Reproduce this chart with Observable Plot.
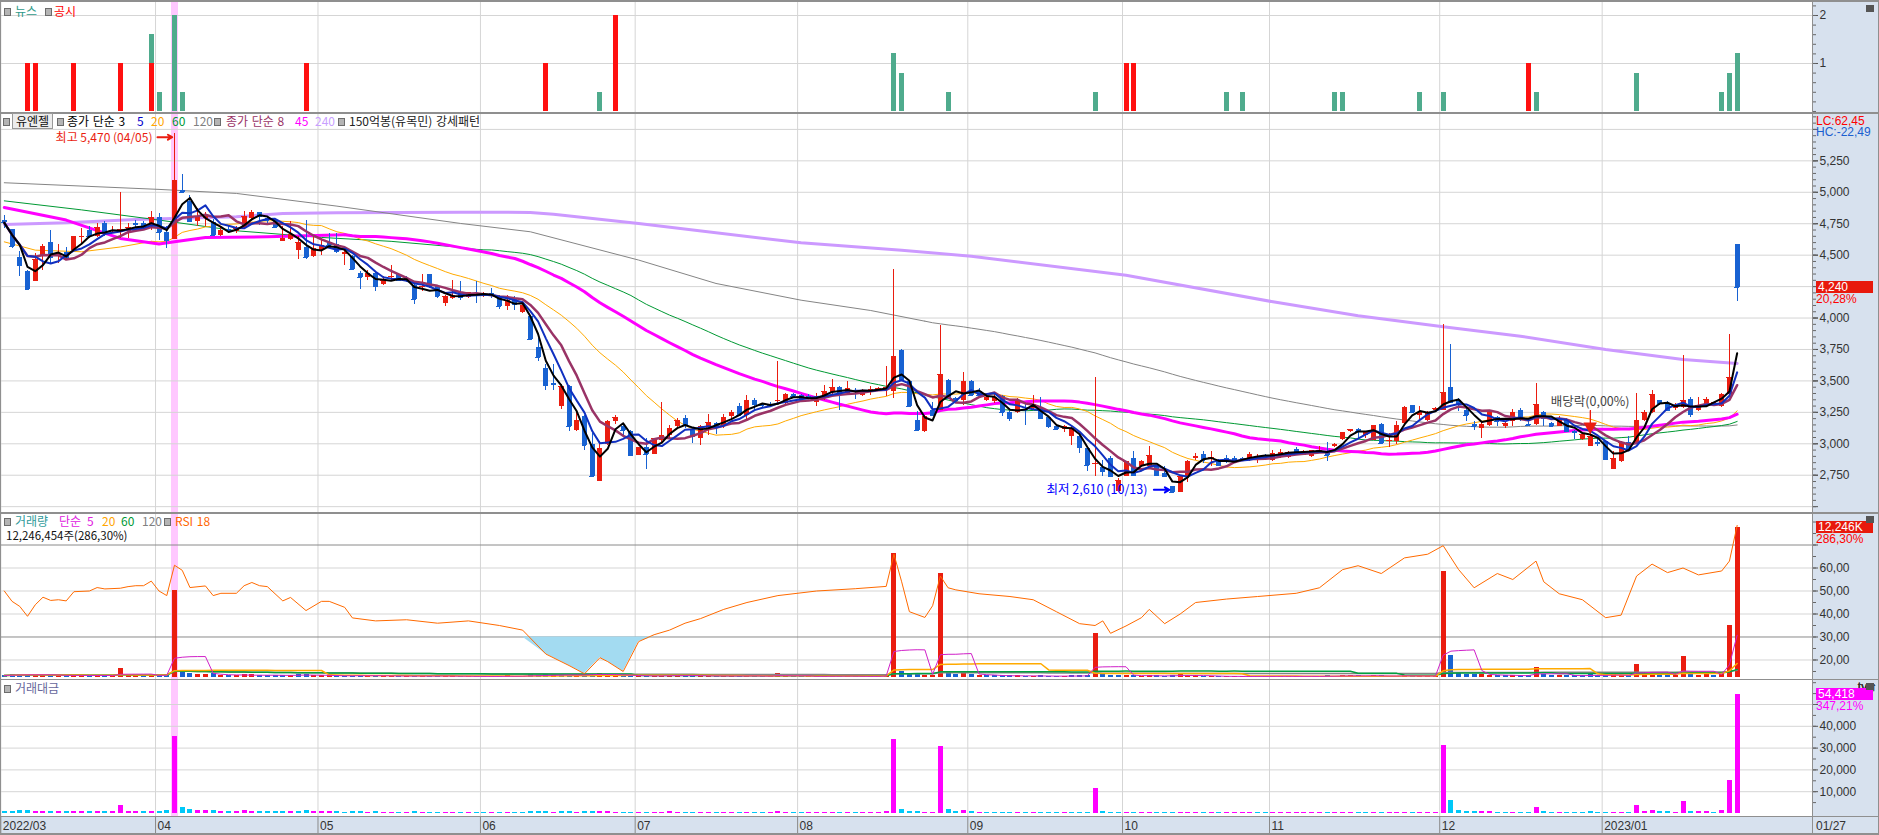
<!DOCTYPE html>
<html><head><meta charset="utf-8">
<script src="https://cdn.jsdelivr.net/npm/d3@7"></script>
<script src="https://cdn.jsdelivr.net/npm/@observablehq/plot@0.6"></script>
<style>
body{margin:0;background:#fff;}
#wrap{position:relative;width:1879px;height:835px;overflow:hidden;font-family:"Liberation Sans","Noto Sans CJK KR",sans-serif;}
.lay{position:absolute;left:0;}
.lg{position:absolute;font-family:"Noto Sans CJK KR",sans-serif;font-size:12px;line-height:12px;white-space:nowrap;word-spacing:1px;}
.sq{position:absolute;width:5px;height:6px;background:#b4b4b4;border:1px solid #6c6c6c;}
.hl{position:absolute;background:#8f8f8f;}
.box{position:absolute;left:1816px;width:57px;height:12px;color:#fff;font-size:12px;line-height:12px;padding-left:2px;box-sizing:border-box;font-family:"Liberation Sans",sans-serif;}
.rt{position:absolute;left:1816px;font-size:12px;line-height:12px;font-family:"Liberation Sans",sans-serif;}
.xb{position:absolute;left:1866px;width:8px;height:7px;background:#555;}
</style></head><body><div id="wrap"></div>
<script>
// ---------------- data ----------------
const monthLabels = ["2022/03","04","05","06","07","08","09","10","11","12","2023/01"];
const monthStarts = [0,20,41,62,82,103,125,145,164,186,207];
const lastDateLabel = "01/27";

const openP = [
4779,4704,4482,4368,4288,4492,4598,4487,4519,4540,
4641,4694,4651,4752,4686,4694,4686,4752,4752,4726,
4797,4681,4625,5017,4924,4765,4792,4757,4659,4704,
4686,4712,4792,4837,4792,4773,4606,4628,4540,4559,
4487,4535,4601,4588,4508,4487,4355,4320,4355,4270,
4323,4349,4315,4262,4243,4347,4248,4116,4156,4203,
4161,4195,4180,4193,4174,4089,4148,4044,4010,3766,
3599,3480,3299,3459,3103,3215,2997,2698,2995,3175,
3135,3095,2910,2968,2918,3029,3069,3135,3201,3109,
3042,3114,3162,3135,3215,3294,3228,3342,3310,3315,
3339,3321,3392,3387,3379,3326,3368,3405,3445,3400,
3427,3387,3408,3427,3427,3413,3745,3493,3183,3095,
3268,3268,3506,3360,3342,3498,3413,3342,3334,3374,
3246,3246,3276,3281,3289,3209,3140,3114,3055,3061,
2963,2836,2812,2883,2618,2743,2883,2817,2817,2817,
2764,2663,2613,2737,2883,2918,2878,2870,2881,2883,
2880,2870,2883,2905,2870,2902,2891,2955,2910,2897,
2928,2936,2976,3034,3095,3114,3069,3029,3154,3016,
3016,3162,3302,3228,3188,3268,3268,3448,3347,3262,
3154,3122,3143,3207,3135,3175,3268,3152,3156,3246,
3162,3140,3193,3095,3037,2976,3011,3021,2798,2857,
3011,3003,3188,3249,3342,3321,3281,3286,3352,3268,
3302,3315,3294,3395,4585];
const highP = [
4818,4704,4527,4381,4514,4585,4694,4585,4559,4646,
4712,4731,4752,4765,4731,4999,4752,4779,4765,4845,
4832,4726,5470,5142,4972,4871,4837,4784,4726,4726,
4731,4845,4853,4837,4805,4784,4726,4765,4646,4773,
4646,4633,4673,4673,4567,4500,4368,4381,4362,4328,
4421,4355,4328,4275,4347,4347,4262,4182,4302,4288,
4201,4288,4201,4235,4182,4182,4174,4129,4023,3838,
3633,3633,3474,3466,3254,3228,3082,3016,3188,3228,
3162,3103,2971,3042,3042,3326,3148,3201,3223,3122,
3148,3233,3167,3233,3268,3321,3387,3360,3321,3326,
3652,3400,3400,3395,3390,3400,3466,3514,3459,3493,
3440,3432,3453,3445,3612,4387,3750,3500,3260,3228,
3326,3944,3511,3366,3565,3500,3440,3400,3405,3387,
3260,3360,3321,3387,3366,3215,3148,3148,3135,3069,
2976,3527,2870,2897,2724,2862,2942,2870,2981,2830,
2817,2663,2737,2870,2923,2936,2936,2878,2910,2897,
2891,2928,2918,2915,2950,2955,2940,2968,2945,2950,
2981,3008,3000,3090,3114,3122,3095,3143,3162,3082,
3175,3294,3307,3299,3260,3289,3952,3792,3360,3281,
3175,3175,3268,3215,3175,3276,3281,3188,3480,3254,
3167,3220,3201,3109,3074,3262,3042,3029,2936,3016,
3061,3400,3268,3421,3347,3334,3321,3700,3368,3368,
3366,3330,3400,3872,4585];
const lowP = [
4712,4553,4333,4230,4288,4381,4434,4434,4461,4540,
4580,4633,4638,4646,4673,4633,4633,4712,4699,4699,
4620,4553,4625,4991,4765,4726,4726,4651,4646,4673,
4673,4712,4779,4739,4752,4712,4606,4620,4468,4468,
4482,4500,4567,4514,4421,4381,4230,4302,4209,4262,
4302,4288,4280,4111,4209,4235,4156,4095,4150,4142,
4156,4116,4164,4156,4068,4058,4063,4036,3824,3652,
3427,3427,3276,3095,3095,2950,2743,2698,2989,3156,
3055,2897,2905,2798,2918,3003,3042,3122,3122,3003,
2989,3069,3077,3122,3188,3215,3188,3254,3281,3300,
3321,3307,3370,3345,3355,3299,3347,3387,3262,3387,
3355,3374,3387,3421,3374,3360,3506,3299,3095,3087,
3228,3262,3352,3335,3302,3380,3374,3334,3321,3215,
3175,3241,3148,3268,3193,3122,3109,3090,2989,2923,
2782,2743,2737,2737,2615,2740,2737,2810,2812,2743,
2737,2610,2610,2690,2870,2843,2817,2830,2843,2862,
2865,2857,2843,2890,2857,2883,2885,2910,2905,2890,
2923,2857,2970,3030,3090,3034,3042,3029,2995,2971,
2997,3148,3241,3188,3175,3249,3262,3321,3260,3175,
3109,3042,3135,3135,3122,3135,3175,3135,3148,3135,
3130,3135,3087,3034,3030,2976,2976,2870,2796,2851,
2950,2997,3180,3241,3307,3254,3268,3281,3209,3260,
3294,3305,3289,3392,4134];
const closeP = [
4757,4567,4421,4230,4466,4567,4482,4514,4474,4646,
4651,4646,4718,4678,4699,4704,4718,4742,4726,4797,
4678,4620,5094,5001,4771,4797,4818,4659,4699,4694,
4712,4805,4837,4810,4773,4720,4633,4667,4601,4479,
4553,4580,4580,4527,4519,4389,4323,4355,4254,4302,
4333,4296,4296,4150,4254,4248,4169,4174,4182,4164,
4201,4188,4185,4185,4089,4142,4108,4103,3830,3687,
3466,3474,3453,3140,3183,2989,2743,2963,3175,3207,
3109,2910,2971,2918,3042,3069,3122,3183,3143,3061,
3140,3167,3135,3209,3246,3228,3342,3315,3305,3305,
3344,3392,3374,3352,3360,3379,3413,3445,3400,3437,
3413,3419,3432,3440,3448,3692,3514,3299,3109,3220,
3228,3551,3360,3342,3498,3387,3387,3368,3366,3246,
3201,3347,3268,3313,3201,3135,3114,3135,3122,2971,
2830,2843,2777,2743,2711,2862,2751,2862,2910,2751,
2737,2610,2737,2857,2902,2870,2891,2830,2870,2870,
2876,2918,2902,2899,2923,2928,2934,2934,2936,2944,
2950,2910,2995,3087,3114,3095,3087,3143,3003,3029,
3143,3289,3246,3246,3249,3281,3408,3326,3321,3228,
3140,3154,3262,3175,3162,3249,3201,3146,3313,3201,
3135,3201,3095,3087,3074,3061,3005,2878,2883,3011,
2957,3183,3249,3392,3321,3268,3307,3347,3233,3307,
3355,3326,3395,3525,4240];
// volume, thousand shares
const volumeK = [
190,230,260,300,250,200,220,180,170,210,
190,200,180,170,150,730,230,200,180,170,
210,260,7150,590,380,270,260,320,220,180,
190,250,230,200,170,210,200,210,240,260,
180,170,150,160,150,190,200,140,180,130,
150,140,120,170,140,130,150,140,130,120,
110,100,120,110,130,150,120,140,230,200,
260,180,220,280,200,260,300,330,250,180,
150,190,140,170,130,150,260,180,150,160,
140,170,120,150,140,130,190,150,110,100,
330,150,120,110,100,130,140,160,120,140,
110,100,120,130,260,10100,520,310,250,200,
150,8500,480,260,380,250,200,160,150,180,
160,170,140,130,150,140,120,130,170,160,
210,3600,300,220,200,180,170,130,180,160,
140,190,230,200,150,130,120,110,100,120,
110,100,130,110,120,130,110,100,120,130,
110,150,120,200,180,150,130,170,160,120,
140,200,150,130,120,110,8700,1800,350,280,
250,270,220,180,170,200,160,150,860,250,
200,170,180,150,160,300,180,200,230,210,
190,1100,330,400,250,230,200,1700,300,220,
240,200,350,4300,12246];
// trading value, million won
const tradeValue = [
900,1050,1150,1300,1100,900,1000,800,760,950,
880,930,840,800,700,3700,1080,950,850,800,
1000,1200,35300,2950,1850,1300,1250,1500,1050,850,
900,1200,1100,950,800,1000,930,970,1100,1180,
820,780,690,730,680,850,870,610,770,560,
650,600,510,710,590,550,630,580,540,500,
460,420,500,460,540,620,500,570,900,750,
920,630,740,900,620,780,850,940,770,570,
470,570,410,500,390,460,800,560,470,500,
440,540,380,480,450,430,630,500,360,330,
1100,500,400,370,340,440,480,550,410,480,
380,340,410,450,900,34000,1800,1050,800,640,
490,30800,1650,870,1290,850,680,540,500,600,
520,560,460,430,480,440,370,400,510,480,
600,11500,830,600,540,500,480,370,510,450,
390,500,620,560,430,380,350,310,290,350,
320,290,380,320,350,380,320,290,350,380,
330,440,360,600,560,470,400,530,490,360,
430,640,490,420,390,360,31400,5800,1150,900,
780,850,700,570,540,640,510,470,2800,800,
630,540,560,460,480,900,540,580,650,620,
570,3600,1050,1300,830,750,650,5500,980,720,
800,660,1150,15200,54418];
// RSI 18 read points [day index, value]
const rsiPoints = [[0,50],[1,45.5],[2,43.3],[3,39],[4,44],[5,47.3],[6,45.9],[7,46.2],[8,45.7],[9,49.7],[11,50],[12,51.5],[13,50.9],[15,51.2],[16,51.9],[17,52.3],[18,52.3],[19,54.3],[20,50],[21,48],[22,61.2],[23,59],[24,51.5],[26,52.2],[27,48],[28,49],[30,49],[31,52.3],[32,53.7],[33,52.3],[34,51.9],[36,45.7],[37,47.2],[39,41.5],[41,45.5],[42,45.5],[44,42.9],[45,38.3],[48,37],[52,37.5],[56,36],[60,37],[64,35],[67,33],[70,22.6],[73,17.6],[75,14],[77,21],[78,19.3],[80,15],[82,28],[84,31],[86,33],[88,36],[90,38],[93,42],[96,45],[100,48],[105,50],[110,51],[114,52],[115,66],[116,54],[117,41],[119,38.5],[120,43.6],[121,56.5],[122,51.4],[123,50.5],[126,48.8],[130,47.6],[133,46.2],[136,41],[139,35.8],[141,35],[142,37],[143,31.6],[145,34.8],[147,38.4],[148,42],[150,35.8],[152,40],[154,45],[158,46.5],[162,47.6],[167,49],[170,51.4],[173,59.3],[175,61],[178,57.6],[181,64.4],[184,66],[186,69.7],[188,59.3],[190,51.4],[193,57.6],[195,55],[198,63],[199,54],[201,48.8],[204,46.2],[207,38.4],[209,39.5],[211,56.5],[213,61.7],[215,58],[217,60],[219,57],[222,58.7],[223,63],[224,78.5]];
// long moving averages read before their window is complete [index, value]
const ma240Pts = [[0,4744],[8,4757],[17,4784],[30,4805],[36,4832],[43,4837],[59,4842],[68,4840],[71,4826],[82,4752],[103,4598],[116,4540],[125,4492],[145,4341],[164,4129],[175,4018],[186,3930],[196,3856],[207,3750],[217,3671],[224,3639]];
const ma120Early = [[0,5076],[20,5023],[30,4991],[43,4890],[59,4752],[68,4686],[82,4461],[92,4275],[103,4142],[112,4060],[119,3975]];
const ma60Early = [[0,4932],[10,4860],[20,4779],[30,4694],[41,4641],[50,4610],[59,4562]];
const ma45Early = [[0,4879],[8,4779],[15,4633],[20,4588],[22,4606],[26,4641],[34,4646],[44,4663]];
const ma20Early = [[0,4606],[4,4540],[10,4527],[15,4565],[19,4610]];
// news / disclosures counts
const newsIdx = [19,20,22,23,77,115,116,122,141,158,160,172,173,183,186,198,211,222,223,224];
const newsVal = [1.6,0.4,2,0.4,0.4,1.2,0.8,0.4,0.4,0.4,0.4,0.4,0.4,0.4,0.4,0.4,0.8,0.4,0.8,1.2];
const gongsiIdx = [3,4,9,15,19,39,70,79,145,146,197];
const gongsiVal = [1,1,1,1,1,1,1,2,1,1,1];
const highIdx = 22, lowIdx = 151, exDivIdx = 205, exDivMark = 3138;
const priceTickVals = [2500,2750,3000,3250,3500,3750,4000,4250,4500,4750,5000,5250,5500];
const priceTickLabels = [2750,3000,3250,3500,3750,4000,4500,4750,5000,5250];

// ---------------- layout ----------------
const W = 1879, MR = 67;
const xDomain = [-0.491, 233.74];
const RED = "#ea1d10", BLUE = "#1862d2", MAG = "#ff00ff", CYAN = "#00c8f8";
const GRID = "#d5d5d5";
const wrap = document.getElementById("wrap");
const rows = d3.range(closeP.length).map(i => ({
  i, o: openP[i], h: highP[i], l: lowP[i], c: closeP[i],
  v: volumeK[i] / 1000, tv: tradeValue[i],
  rise: i === 0 ? closeP[0] >= openP[0] : closeP[i] >= closeP[i - 1]
}));
const candleColor = d => d.c >= d.o ? RED : BLUE;
const gridX = monthStarts.map(d => d - 0.45);

function base(h, y) {
  return {width: W, height: h, marginLeft: 0, marginRight: MR, marginTop: 0, marginBottom: 0,
    style: {background: "transparent", overflow: "visible", fontFamily: "Liberation Sans, sans-serif", fontSize: "12px", color: "#333"},
    x: {domain: xDomain, axis: null}, y: Object.assign({axis: null}, y)};
}
function put(el, top, z) {
  const d = document.createElement("div");
  d.className = "lay"; d.style.top = top + "px"; d.style.zIndex = z;
  d.appendChild(el); wrap.appendChild(d); return el;
}
function div(cls, css, html) {
  const d = document.createElement("div");
  d.className = cls; d.style.cssText = css; if (html != null) d.innerHTML = html;
  wrap.appendChild(d); return d;
}
const comma = d3.format(",");
const dec2 = d => d.toFixed(2).replace(".", ",");
const rightAxis = (ticks, fmt) => Plot.axisY(ticks, {anchor: "right", tickSize: 5, tickPadding: 2, tickFormat: fmt, stroke: "#555", fill: "#333", fontSize: 12});
const minorAxis = (ticks) => Plot.axisY(ticks, {anchor: "right", tickSize: 3, tickFormat: () => "", stroke: "#666"});
const pink = Plot.ruleX([highIdx], {stroke: "#ffc8ff", strokeWidth: 7});
const monthRules = Plot.ruleX(gridX, {stroke: GRID});

// backgrounds
div("", "position:absolute;left:1812px;top:0;width:67px;height:835px;background:#d7e1ee;z-index:0");
div("", "position:absolute;left:0;top:817px;width:1879px;height:17px;background:#d7e1ee;z-index:0");

// ---------- news panel ----------
put(Plot.plot({...base(113, {domain: [-0.042, 2.3125]}), marks: [
  pink, monthRules,
  Plot.ruleY([1, 2], {stroke: GRID}),
  Plot.ruleX(newsIdx, {x: d => d, y1: () => 0, y2: (d, k) => newsVal[k], stroke: "#4fab8d", strokeWidth: 5, shapeRendering: "crispEdges"}),
  Plot.ruleX(gongsiIdx, {x: d => d, y1: () => 0, y2: (d, k) => gongsiVal[k], stroke: "#ff1010", strokeWidth: 5, shapeRendering: "crispEdges"}),
  rightAxis([1, 2], d3.format("d")),
  minorAxis(d3.range(0, 2.21, 0.2))
]}), 0, 2);

// ---------- price panel ----------
const maLine = (k, color, w, strict) => Plot.lineY(rows, Plot.windowY({k, anchor: "end", strict}, {x: "i", y: "c", stroke: color, strokeWidth: w}));
const ptsLine = (pts, color, w) => Plot.line(pts, {x: d => d[0], y: d => d[1], stroke: color, strokeWidth: w});
const priceChart = put(Plot.plot({...base(400, {domain: [2445.7, 5626.6]}), marks: [
  pink, monthRules,
  Plot.ruleY(priceTickVals, {stroke: GRID}),
  ptsLine(ma240Pts, "#cc99ff", 3),
  ptsLine(ma120Early, "#858585", 1), maLine(120, "#858585", 1, true),
  ptsLine(ma60Early, "#009933", 1), maLine(60, "#009933", 1, true),
  ptsLine(ma20Early, "#ffaa00", 1), maLine(20, "#ffaa00", 1, true),
  ptsLine(ma45Early, "#ff00ff", 3), maLine(45, "#ff00ff", 3, true),
  Plot.ruleX(rows, {x: "i", y1: "l", y2: "h", stroke: candleColor, strokeWidth: 1, shapeRendering: "crispEdges"}),
  Plot.ruleX(rows, {x: "i", y1: "o", y2: "c", stroke: candleColor, strokeWidth: 5, shapeRendering: "crispEdges"}),
  Plot.ruleY(rows, {x1: d => d.i - 0.32, x2: d => d.i + 0.32, y: "c", stroke: candleColor, shapeRendering: "crispEdges"}),
  maLine(8, "#993366", 2.5, false),
  maLine(5, "#1030c0", 2, false),
  maLine(3, "#000000", 2, false),
  // annotations
  Plot.arrow([rows[highIdx]], {x1: d => d.i - 2.2, x2: d => d.i - 0.3, y1: "h", y2: "h", stroke: RED, strokeWidth: 2, headLength: 7, dy: 4}),
  Plot.text([rows[highIdx]], {x: "i", y: "h", text: d => `최고 ${comma(d.h)} (04/05)`, dx: -22, dy: 5, textAnchor: "end", fill: RED, fontSize: 12, fontFamily: "Noto Sans CJK KR"}),
  Plot.arrow([rows[lowIdx]], {x1: d => d.i - 2.4, x2: d => d.i - 0.4, y1: "l", y2: "l", stroke: "#0000ff", strokeWidth: 2, headLength: 7, dy: -3}),
  Plot.text([rows[lowIdx]], {x: "i", y: "l", text: d => `최저 ${comma(d.l)} (10/13)`, dx: -25, dy: -3, textAnchor: "end", fill: "#0000ff", fontSize: 12.5, fontFamily: "Noto Sans CJK KR"}),
  Plot.ruleX([exDivIdx], {y1: () => exDivMark, y2: () => 3262, stroke: RED}),
  Plot.dot([exDivMark], {x: () => exDivIdx, y: d => d, symbol: "triangle", r: 5, fill: RED, rotate: 180}),
  Plot.text([exDivMark], {x: () => exDivIdx, y: () => 3336, text: () => "배당락(0,00%)", fill: "#444", fontSize: 12.5, fontFamily: "Noto Sans CJK KR"}),
  rightAxis(priceTickLabels, comma),
  Plot.axisY(priceTickVals, {anchor: "right", tickSize: 5, tickFormat: () => "", stroke: "#555"}),
  minorAxis(d3.range(2500, 5601, 50))
]}), 113, 2);

// ---------- volume / RSI panel ----------
const rsiY = {domain: [11.52, 83.7]};
const rsiData = rsiPoints.map(([i, r]) => ({i, r}));
put(Plot.plot({...base(166, rsiY), marks: [
  pink, monthRules,
  Plot.ruleY([20, 40, 50, 60], {stroke: GRID}),
  Plot.ruleY([30, 70], {stroke: "#8a8a8a"}),
  Plot.areaY(rsiData, {x: "i", y1: d => Math.min(d.r, 30), y2: () => 30, fill: "#a3dbf1"}),
  rightAxis([20, 30, 40, 50, 60], dec2),
  Plot.axisY([70], {anchor: "right", tickSize: 5, tickFormat: () => "", stroke: "#555"}),
  minorAxis(d3.range(15, 81, 5))
]}), 513, 2);
const volChart = put(Plot.plot({...base(166, {domain: [-0.139, 13.39]}), marks: [
  Plot.ruleX(rows, {x: "i", y1: () => 0, y2: "v", stroke: d => d.rise ? RED : BLUE, strokeWidth: 5, shapeRendering: "crispEdges"}),
  Plot.lineY(rows, Plot.windowY({k: 120, anchor: "end"}, {x: "i", y: "v", stroke: "#858585", strokeWidth: 1.5})),
  Plot.lineY(rows, Plot.windowY({k: 60, anchor: "end"}, {x: "i", y: "v", stroke: "#00a040", strokeWidth: 1.5})),
  Plot.lineY(rows, Plot.windowY({k: 20, anchor: "end"}, {x: "i", y: "v", stroke: "#ffaa00", strokeWidth: 1.5})),
  Plot.lineY(rows, Plot.windowY({k: 5, anchor: "end"}, {x: "i", y: "v", stroke: "#d020c8", strokeWidth: 1}))
]}), 513, 3);
put(Plot.plot({...base(166, rsiY), marks: [
  Plot.line(rsiData, {x: "i", y: "r", stroke: "#ff6a00", strokeWidth: 1})
]}), 513, 4);

// ---------- trading value panel ----------
const valChart = put(Plot.plot({...base(138, {domain: [-1835, 61468]}), marks: [
  pink, monthRules,
  Plot.ruleY([10000, 20000, 30000, 40000, 50000], {stroke: GRID}),
  Plot.ruleX(rows, {x: "i", y1: () => 0, y2: "tv", stroke: d => d.rise ? MAG : CYAN, strokeWidth: 5, shapeRendering: "crispEdges"}),
  rightAxis([10000, 20000, 30000, 40000], comma),
  Plot.axisY([50000], {anchor: "right", tickSize: 5, tickFormat: () => "", stroke: "#555"}),
  minorAxis(d3.range(5000, 60001, 5000))
]}), 679, 2);

// ---------- x axis row ----------
put(Plot.plot({...base(17, {domain: [0, 1]}), marks: [
  Plot.ruleX(gridX, {stroke: "#8a8a8a"}),
  Plot.text(gridX, {x: d => d, text: (d, k) => monthLabels[k], textAnchor: "start", dx: 2, frameAnchor: "middle", fontSize: 12, fill: "#333"})
]}), 817, 2);

// ---------- borders ----------
[[0,2],[112,2],[512,2],[679,1],[816,1],[833,2]].forEach(([t, h]) => div("hl", `left:0;top:${t}px;width:1879px;height:${h}px;z-index:6`));
div("hl", "left:0;top:0;width:1px;height:835px;z-index:6");
div("hl", "left:1812px;top:0;width:1px;height:835px;z-index:6");
div("hl", "left:1878px;top:0;width:1px;height:835px;z-index:6");

// ---------- legends ----------
function legend(top, items) {
  items.forEach(([t, x, c, extra]) => {
    if (t === "■") div("sq", `left:${x}px;top:${top + 3}px;z-index:7`);
    else div("lg", `left:${x}px;top:${top}px;color:${c};z-index:7;${extra || ""}`, t);
  });
}
legend(5, [["■", 4], ["뉴스", 15, "#2f9a8a"], ["■", 45], ["공시", 54, "#ff0000"]]);
legend(115, [["■", 3], ["유엔젤", 12, "#111", "border:1px solid #999;background:#ececec;padding:1px 3px;top:113px;"], ["■", 57],
  ["종가 단순 3", 67, "#000"], ["5", 137, "#0000cc"], ["20", 151, "#ffa500"], ["60", 172, "#009933"], ["120", 193, "#808080"],
  ["■", 214], ["종가 단순 8", 226, "#993366"], ["45", 295, "#ff00ff"], ["240", 315, "#c8a0ff"],
  ["■", 338], ["150억봉(유목민) 강세패턴", 349, "#222"]]);
legend(515, [["■", 4], ["거래량", 15, "#2f9a9a"], ["단순", 59, "#e020e0"], ["5", 87, "#e020e0"], ["20", 102, "#ffa500"],
  ["60", 121, "#009933"], ["120", 142, "#808080"], ["■", 164], ["RSI 18", 175, "#ff6600"]]);
legend(530, [["12,246,454주(286,30%)", 6, "#111", "font-size:11.5px;line-height:11px;"]]);
legend(682, [["■", 4], ["거래대금", 15, "#66669c"]]);

// ---------- right axis annotations ----------
div("rt", "top:115px;color:#ff0000;z-index:7", "LC:62,45");
div("rt", "top:126px;color:#1a5fd0;z-index:7", "HC:-22,49");
const last = rows[rows.length - 1];
const py = 113 + priceChart.scale("y").apply(last.c);
div("box", `top:${py - 6}px;background:#e8190c;z-index:7`, comma(last.c));
div("rt", `top:${py + 6}px;color:#ff0000;z-index:7`, "20,28%");
const vy = 513 + volChart.scale("y").apply(last.v);
div("box", `top:${vy - 6}px;background:#e8190c;z-index:7`, "12,246K");
div("rt", `top:${vy + 6}px;color:#ff0000;z-index:7`, "286,30%");
const ty = 679 + valChart.scale("y").apply(last.tv);
div("box", `top:${ty - 6}px;background:#ff00ff;z-index:7`, comma(last.tv));
div("rt", `top:${ty + 6}px;color:#ff00ff;z-index:7`, "347,21%");
div("rt", "top:820px;color:#333;z-index:7", lastDateLabel);
[5, 516, 683].forEach(t => div("xb", `top:${t}px;z-index:7`));
</script></body></html>
